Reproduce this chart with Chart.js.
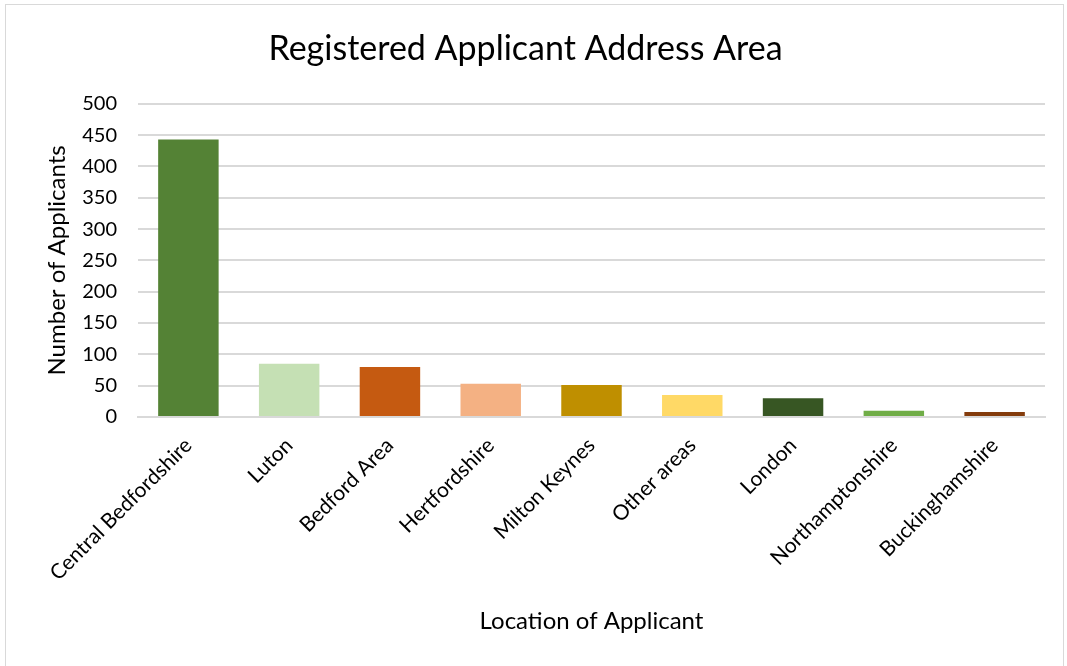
<!DOCTYPE html>
<html>
<head>
<meta charset="utf-8">
<script src="https://cdn.jsdelivr.net/npm/chart.js@4/dist/chart.umd.min.js"></script>
<style>
  html, body { margin: 0; padding: 0; background: #fff; }
  #wrap { position: relative; width: 1067px; height: 666px; }
  #frame { position: absolute; left: 5px; top: 4px; width: 1057px; height: 700px; border: 1px solid #d9d9d9; pointer-events: none; }
</style>
</head>
<body>
<div id="wrap">
  <canvas id="areaChart" width="1067" height="666"></canvas>
  <div id="frame"></div>
</div>
<script>
const locations = ["Central Bedfordshire", "Luton", "Bedford Area", "Hertfordshire", "Milton Keynes", "Other areas", "London", "Northamptonshire", "Buckinghamshire"];
const applicants = [443, 85, 80, 53, 51, 35, 30, 10, 8];
const barColours = ["#548235", "#c5e0b4", "#c55a11", "#f4b183", "#bf8f00", "#ffd966", "#375623", "#70ad47", "#843c0c"];
const yTicks = [0, 50, 100, 150, 200, 250, 300, 350, 400, 450, 500];

const fontFamily = "Lato, 'Open Sans', sans-serif";
const gridGrey = "#d9d9d9";

new Chart(document.getElementById("areaChart").getContext("2d"), {
    type: "bar",
    data: {
        labels: locations,
        datasets: [{ data: applicants, backgroundColor: barColours, categoryPercentage: 1, barPercentage: 0.6 }]
    },
    options: {
        responsive: false,
        animation: false,
        layout: { padding: { left: 6, right: 22, top: 0, bottom: 20 } },
        plugins: {
            legend: { display: false },
            tooltip: { enabled: false },
            title: {
                display: true,
                text: "Registered Applicant Address Area",
                color: "#000",
                font: { family: fontFamily, size: 34, weight: "normal" },
                padding: { top: 29, bottom: 34 }
            }
        },
        scales: {
            x: {
                afterFit: (scale) => { scale.height = 229; },
                grid: { display: false, drawTicks: false },
                border: { color: gridGrey, width: 2 },
                ticks: { color: "#000", font: { family: fontFamily, size: 21 }, minRotation: 45, maxRotation: 45, padding: 16 },
                title: { display: true, text: "Location of Applicant", color: "#000", font: { family: fontFamily, size: 24 }, padding: { top: 10, bottom: 10 } }
            },
            y: {
                min: 0,
                max: 500,
                afterBuildTicks: (scale) => { scale.ticks = yTicks.map((v) => ({ value: v })); },
                afterFit: (scale) => { scale.width = 132; },
                grid: { color: gridGrey, lineWidth: 2, drawTicks: false },
                border: { display: false },
                ticks: { color: "#000", font: { family: fontFamily, size: 20 }, padding: 21 },
                title: { display: true, text: "Number of Applicants", color: "#000", font: { family: fontFamily, size: 24 }, padding: { top: 37, bottom: 0 } }
            }
        }
    }
});
</script>
</body>
</html>
